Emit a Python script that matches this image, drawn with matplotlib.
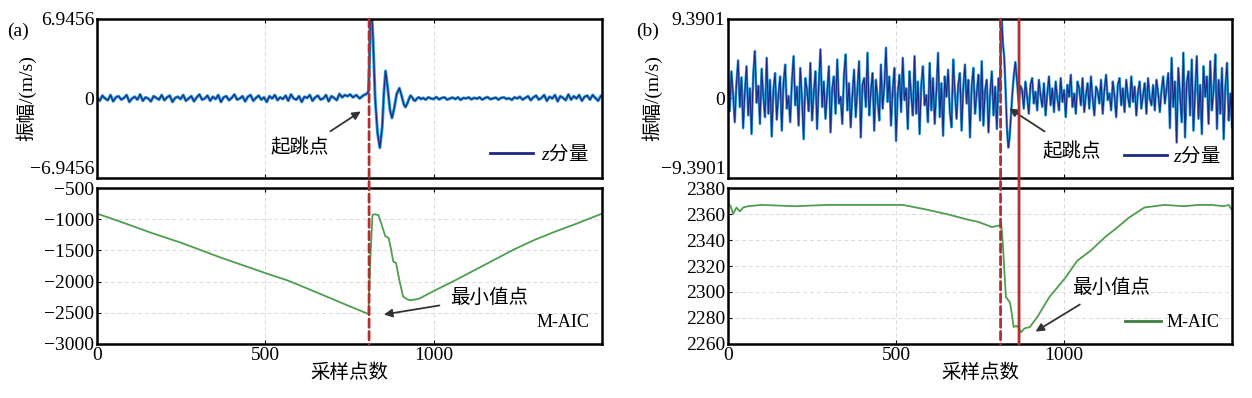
import numpy as np
import matplotlib
matplotlib.use("Agg")
import matplotlib.pyplot as plt
from matplotlib.lines import Line2D
from matplotlib.patches import ConnectionPatch
from matplotlib.ticker import FixedLocator, FixedFormatter

plt.rcParams['font.family'] = ['Liberation Serif', 'Noto Sans CJK SC', 'DejaVu Sans']
plt.rcParams['mathtext.fontset'] = 'custom'
plt.rcParams['mathtext.rm'] = 'Noto Sans CJK SC'
plt.rcParams['mathtext.it'] = 'Liberation Serif:italic'
plt.rcParams['axes.unicode_minus'] = True

# ---------------- data ----------------
# (a) z component: pre-onset noise (step 8 samples)
a_pre = [0.1, -0.2, 0.25, 0.0, -0.15, 0.3, -0.25, 0.1, 0.2, -0.1, 0.05, 0.3, -0.3, 0.0, 0.15, -0.1, 0.35, -0.2, 0.1, 0.0,
         -0.25, 0.2, 0.05, -0.1, 0.3, -0.15, 0.1, 0.25, -0.3, 0.05, 0.15, -0.05, 0.3, -0.2, 0.0, 0.2, -0.25, 0.1, 0.35, -0.1,
         0.0, 0.25, -0.2, 0.15, -0.05, 0.3, -0.3, 0.1, 0.2, -0.15, 0.05, 0.35, -0.1, 0.0, 0.2, -0.25, 0.15, 0.3, -0.2, 0.05,
         0.25, -0.1, 0.1, -0.3, 0.2, 0.0, 0.3, -0.15, 0.1, -0.05, 0.25, -0.2, 0.35, 0.0, -0.1, 0.2, -0.3, 0.15, 0.05, 0.3,
         -0.2, 0.1, 0.25, -0.1, 0.0, 0.3, -0.25, 0.2, 0.05, -0.15, 0.4, 0.1, 0.3, 0.2, 0.35]
a_pre_step = 8
# (a) onset wavelet
a_on_x = [760, 770, 780, 790, 800, 806, 809, 812, 815, 820, 826, 833, 840, 847, 852, 857, 863, 870, 876, 883,
          890, 898, 905, 911, 916, 922, 927, 931, 936, 941, 945, 950, 956, 962]
a_on_y = [0.1, 0.3, 0.0, 0.25, 0.4, 0.6, 3.0, 7.5, 8.0, 5.0, 0.0, -3.0, -4.3, -2.5, 0.5, 2.4, 1.0, -1.0, -1.7, -0.8,
          0.4, 0.9, 0.2, -0.5, -0.75, -0.4, 0.0, 0.25, 0.1, -0.15, -0.2, 0.0, 0.1, -0.05]
# (a) post-event noise (step 8 from 968)
a_post_start = 968
a_post = [0.05, -0.1, 0.1, 0.0, -0.05, 0.12, -0.08, 0.05, 0.1, -0.1, 0.0, 0.08, -0.05, 0.1, -0.12, 0.05, 0.0, 0.1, -0.08, 0.06,
          -0.02, 0.1, -0.1, 0.04, 0.12, -0.06, 0.0, 0.08, -0.1, 0.05, 0.1, -0.04, 0.02, -0.12, 0.1, 0.0, 0.15, -0.1, 0.05, 0.2,
          -0.15, 0.1, 0.25, -0.1, 0.05, 0.3, -0.2, 0.15, 0.0, 0.3, -0.25, 0.2, 0.05, -0.15, 0.35, -0.1, 0.2, 0.0, 0.3, -0.2,
          0.15, 0.25, -0.1, 0.3, 0.05, -0.2, 0.2]
a_post_step = 8

# (a) M-AIC
aic_a_x = [0, 80, 162, 251, 368, 509, 568, 651, 730, 806, 812, 818, 824, 836, 846, 856, 866, 872, 880, 888,
           898, 909, 920, 930, 956, 1004, 1060, 1120, 1180, 1240, 1300, 1360, 1420, 1500]
aic_a_y = [-910, -1060, -1220, -1380, -1616, -1880, -1985, -2170, -2350, -2520, -1600, -930, -920, -935, -1100, -1270, -1300, -1450, -1680, -1700,
           -1980, -2240, -2280, -2300, -2275, -2140, -1990, -1820, -1650, -1480, -1330, -1200, -1080, -910]

# (b) z component: pre-onset noise (step 5)
b_pre = [2.0, -1.5, 3.2, 0.5, -2.8, 1.8, 4.5, -1.0, 2.5, -3.5, 0.8, 3.8, -2.0, 1.2, -4.2, 2.8, 5.6, -0.5, 1.5, -3.0,
         3.5, 0.2, -2.2, 4.8, -1.8, 2.2, -4.5, 1.0, 3.0, -2.5, 0.5, 2.6, -3.8, 1.8, 4.0, -1.2, 0.3, -2.8, 2.0, 5.0,
         -0.8, 1.4, -3.2, 3.6, 0.0, -4.8, 2.4, 1.0, -1.5, 4.2, -2.6, 0.6, 3.2, -3.6, 1.6, 5.8, -1.0, 2.0, -2.4, 0.8,
         3.8, -4.0, 1.2, 2.6, -1.8, 4.6, -0.6, 0.2, -3.0, 2.8, 5.2, -1.4, 1.8, -3.4, 0.4, 3.4, -2.2, 1.0, 4.4, -4.6,
         1.6, 2.4, -1.0, 5.4, -2.0, 0.8, 3.0, -3.8, 2.2, 0.0, -2.6, 4.0, -1.2, 1.4, 6.0, -0.4, 2.6, -3.2, 1.0, 3.6,
         -5.0, 0.6, 2.8, -1.6, 4.8, -0.2, 1.2, -3.6, 3.2, 0.4, -2.0, 5.0, -1.8, 2.0, -4.2, 1.6, 3.8, -0.8, 0.4, -2.8,
         4.2, -1.4, 2.4, -3.0, 0.8, 5.4, -2.2, 1.8, -4.4, 2.6, 0.2, 3.4, -1.6, -3.4, 4.6, 0.8, -2.4, 1.6, 3.0, -3.8,
         1.2, 4.0, -0.6, 2.2, -4.6, 1.4, 3.6, -1.8, 0.6, 2.8, -2.6, 4.4, -3.2, 1.0, 2.2, -4.0, 0.6, 3.2, -2.0, 1.4,
         -3.6, 2.4, 0.8]
b_pre_step = 5
# (b) onset
b_on_x = [812, 815, 818, 822, 826, 830, 834, 838, 842, 846, 850, 855, 860, 865, 870]
b_on_y = [9.6, 9.0, 6.5, 4.8, 1.0, -3.5, -5.8, -4.5, -2.0, 0.5, 2.5, 4.3, 2.0, -0.5, 1.5]
# (b) quieter section (step 5 from 875)
b_post_start = 875
b_post = [1.0, -1.2, 2.0, 0.2, -1.8, 1.6, 2.4, -0.6, 0.8, -1.4, 2.2, 0.4, -1.0, 1.8, -2.0, 0.6, 2.6, -0.8, 1.2, -1.6,
          2.0, 0.0, -1.4, 2.4, -0.4, 1.0, -2.2, 1.6, 0.2, 2.8, -1.0, 0.6, -1.8, 2.0, 1.2, -0.8, 2.4, -1.6, 0.4, 1.8,
          -1.2, 2.6, 0.0, -2.0, 1.4, 0.8, -0.6, 2.2, -1.8, 1.0, 2.8, -0.2, 0.6, -1.4, 2.0, 0.4, -2.2, 1.6, 2.4, -0.8,
          1.2, -1.6, 2.2, 0.2, -1.0, 2.6, -0.4, 1.4, -2.0, 0.8, 2.0, -1.2, 0.4, 1.8, -1.8, 2.4, 0.0, -0.8, 1.6, -1.4,
          2.2, 0.6, -1.6, 1.0, 2.6, -0.6, 1.2]
# (b) louder tail (step 5 from 1310)
b_tail_start = 1310
b_tail = [3.0, -3.5, 4.8, -1.0, 2.0, -5.2, 3.6, 0.5, -2.8, 5.4, -4.6, 1.8, 3.2, -2.0, 4.6, -3.8, 0.8, 5.0, -2.4, 1.6,
          -4.2, 3.8, 0.2, 2.6, -3.0, 4.4, -1.4, 1.0, 5.2, -3.6, 2.2, -1.8, 3.6, -4.8, 1.4, 4.2, -2.6, 0.6, -3.4]

# (b) M-AIC
aic_b_x = [0, 8, 15, 25, 35, 45, 60, 100, 200, 297, 420, 520, 580, 650, 709, 744, 785, 805, 813, 817,
           821, 827, 839, 844, 850, 858, 866, 872, 882, 898, 921, 956, 1004, 1039, 1080, 1121, 1160, 1192, 1239, 1298,
           1357, 1400, 1440, 1475, 1490, 1500]
aic_b_y = [2368, 2366, 2360, 2365, 2362, 2365, 2366, 2367, 2366, 2367, 2367, 2367, 2364, 2360, 2356, 2354, 2350, 2351, 2352, 2340,
           2322, 2296, 2292, 2284, 2273, 2274, 2272, 2269, 2272, 2273, 2281, 2296, 2311, 2324, 2332, 2342, 2350, 2357, 2365, 2367,
           2366, 2367, 2367, 2366, 2367, 2363]

a_onset = 808
b_onset = 811
b_minpt = 866

amp_a = 6.9456
amp_b = 9.3901
x_ticks = [0, 500, 1000]
aic_a_ticks = [-3000, -2500, -2000, -1500, -1000, -500]
aic_b_ticks = [2260, 2280, 2300, 2320, 2340, 2360, 2380]

# ---------------- assemble ----------------
a_x = np.concatenate([np.arange(len(a_pre)) * a_pre_step, a_on_x,
                      a_post_start + np.arange(len(a_post)) * a_post_step])
a_y = np.concatenate([a_pre, a_on_y, a_post])
b_x = np.concatenate([np.arange(len(b_pre)) * b_pre_step, b_on_x,
                      b_post_start + np.arange(len(b_post)) * 5,
                      b_tail_start + np.arange(len(b_tail)) * 5])
b_y = np.concatenate([b_pre, b_on_y, b_post, b_tail])

LIGHT = '#2b9fd8'
NAVY = '#1c2a86'
GREEN = '#4f9d4f'
DGREEN = '#3b7d3b'
RED = '#b0302f'
FS = 14
CJK_PROP = dict(family='Noto Sans CJK SC', size=FS)

fig = plt.figure(figsize=(12.52, 3.98), dpi=100)
ax_at = fig.add_axes([0.0775, 0.5528, 0.4034, 0.3995])
ax_ab = fig.add_axes([0.0775, 0.1357, 0.4034, 0.3919])
ax_bt = fig.add_axes([0.5815, 0.5528, 0.4026, 0.3995])
ax_bb = fig.add_axes([0.5815, 0.1357, 0.4026, 0.3919])


def style(ax, top):
    ax.set_xlim(0, 1500)
    ax.xaxis.set_major_locator(FixedLocator(x_ticks))
    ax.tick_params(direction='in', length=3, width=0.8, top=True, labelsize=FS, pad=2)
    for s in ax.spines.values():
        s.set_linewidth(1.8)
    if top:
        ax.tick_params(labelbottom=False)
        ax.grid(True, axis='x', color='#dadada', ls=(0, (4, 3)), lw=0.7)
    else:
        ax.grid(True, color='#dadada', ls=(0, (4, 3)), lw=0.7)
        ax.set_xlabel('采样点数', fontsize=FS, labelpad=0)
    ax.set_axisbelow(True)


def lift_lowest_label(ax):
    labels = ax.get_yticklabels()
    labels[0].set_va('bottom')


# (a) top
ax_at.plot(a_x, a_y, color=LIGHT, lw=2.2)
ax_at.plot(a_x, a_y, color=NAVY, lw=0.9)
ax_at.set_ylim(-amp_a, amp_a)
ax_at.yaxis.set_major_locator(FixedLocator([-amp_a, 0, amp_a]))
ax_at.yaxis.set_major_formatter(FixedFormatter(['−6.9456', '0', '6.9456']))
style(ax_at, True)
lift_lowest_label(ax_at)
ax_at.set_ylabel('振幅/(m/s)', fontsize=FS)
ax_at.yaxis.set_label_coords(-0.12, 0.5)
ax_at.legend(handles=[Line2D([], [], color=NAVY, lw=2)], labels=['$z$分量'], loc='lower right',
             frameon=False, prop=CJK_PROP, handlelength=2.2, handletextpad=0.4, borderaxespad=0.3)
ax_at.annotate('', xy=(790, -1.0), xytext=(686, -3.0),
               arrowprops=dict(arrowstyle='-|>', color='#333333', lw=1.3, mutation_scale=12))
ax_at.text(603, -4.3, '起跳点', fontsize=FS, ha='center', va='center')

# (a) bottom
ax_ab.plot(aic_a_x, aic_a_y, color=GREEN, lw=1.3)
ax_ab.set_ylim(-3000, -500)
ax_ab.yaxis.set_major_locator(FixedLocator(aic_a_ticks))
style(ax_ab, False)
ax_ab.legend(handles=[Line2D([], [], color='none', lw=2)], labels=['M-AIC'], loc='lower right',
             frameon=False, fontsize=FS - 1, handlelength=0.5, handletextpad=0.2, borderaxespad=0.3)
ax_ab.annotate('', xy=(844, -2535), xytext=(1025, -2375),
               arrowprops=dict(arrowstyle='-|>', color='#333333', lw=1.3, mutation_scale=12))
ax_ab.text(1164, -2263, '最小值点', fontsize=FS, ha='center', va='center')

# (b) top
ax_bt.plot(b_x, b_y, color=LIGHT, lw=1.8)
ax_bt.plot(b_x, b_y, color=NAVY, lw=0.8)
ax_bt.set_ylim(-amp_b, amp_b)
ax_bt.yaxis.set_major_locator(FixedLocator([-amp_b, 0, amp_b]))
ax_bt.yaxis.set_major_formatter(FixedFormatter(['−9.3901', '0', '9.3901']))
style(ax_bt, True)
lift_lowest_label(ax_bt)
ax_bt.set_ylabel('振幅/(m/s)', fontsize=FS)
ax_bt.yaxis.set_label_coords(-0.13, 0.5)
ax_bt.legend(handles=[Line2D([], [], color=NAVY, lw=2)], labels=['$z$分量'], loc='lower right',
             frameon=False, prop=CJK_PROP, handlelength=2.2, handletextpad=0.3, borderaxespad=0.2)
ax_bt.annotate('', xy=(830, -1.0), xytext=(949, -4.07),
               arrowprops=dict(arrowstyle='-|>', color='#333333', lw=1.3, mutation_scale=12))
ax_bt.text(1024, -6.3, '起跳点', fontsize=FS, ha='center', va='center')

# (b) bottom
ax_bb.plot(aic_b_x, aic_b_y, color=GREEN, lw=1.3)
ax_bb.set_ylim(2260, 2380)
ax_bb.yaxis.set_major_locator(FixedLocator(aic_b_ticks))
style(ax_bb, False)
ax_bb.legend(handles=[Line2D([], [], color=DGREEN, lw=2)], labels=['M-AIC'], loc='lower right',
             frameon=False, fontsize=FS - 1, handlelength=2.0, handletextpad=0.3, borderaxespad=0.3)
ax_bb.annotate('', xy=(908, 2268.5), xytext=(1054, 2291.5),
               arrowprops=dict(arrowstyle='-|>', color='#333333', lw=1.3, mutation_scale=12))
ax_bb.text(1140, 2303, '最小值点', fontsize=FS, ha='center', va='center')

# vertical marker lines spanning both panels
for (axt, axb, xv, ls) in [(ax_at, ax_ab, a_onset, (0, (3, 1.5))),
                           (ax_bt, ax_bb, b_onset, (0, (3, 1.5))),
                           (ax_bt, ax_bb, b_minpt, '-')]:
    con = ConnectionPatch(xyA=(xv, axt.get_ylim()[1]), coordsA='data', axesA=axt,
                          xyB=(xv, axb.get_ylim()[0]), coordsB='data', axesB=axb,
                          color=RED, lw=2.0, linestyle=ls, zorder=5)
    fig.add_artist(con)

fig.text(0.006, 0.91, '(a)', fontsize=FS)
fig.text(0.508, 0.91, '(b)', fontsize=FS)

fig.savefig('out.png', dpi=100)
